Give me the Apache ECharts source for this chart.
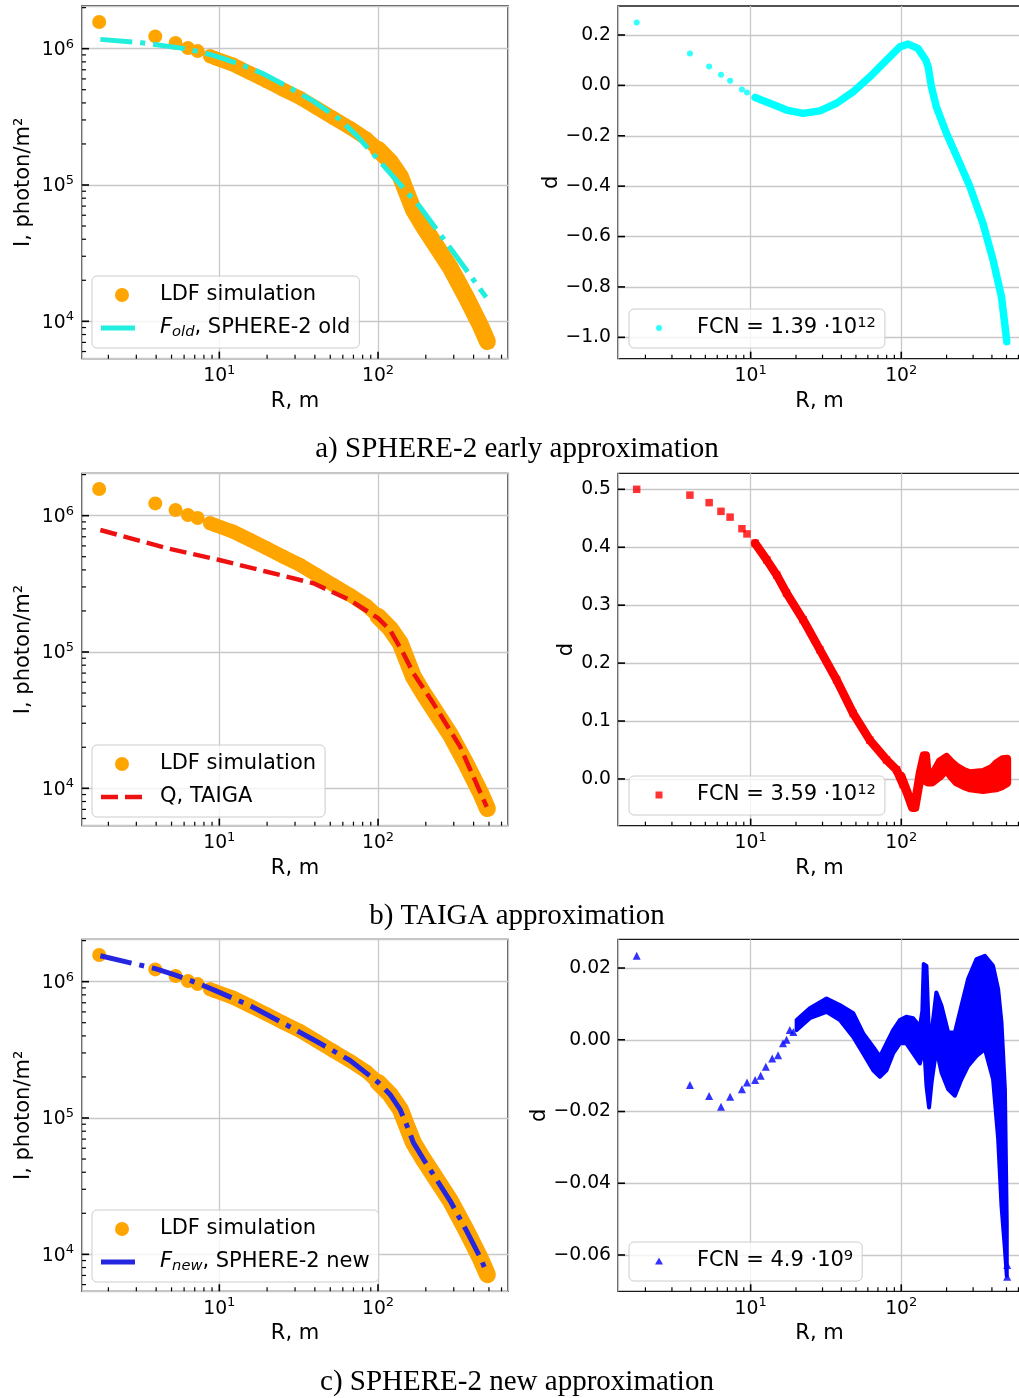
<!DOCTYPE html>
<html><head><meta charset="utf-8">
<script src="https://cdn.jsdelivr.net/npm/echarts@6/dist/echarts.min.js"></script>
<style>html,body{margin:0;padding:0;background:#fff}#c{width:1019px;height:1398px}</style>
</head><body><div id="c"></div>
<script>
// ---------------- DATA ----------------
// LDF simulation (shared by the three left panels): R [m], I [photon/m^2]
const ldfR = [1.75, 3.95, 5.3, 6.35, 7.3, 8.75, 9.45, 12.2, 15.6, 19.9, 25.3, 32.3, 41.1, 52.3, 66.7, 84.9, 100, 119, 138, 152, 167, 193, 223, 284, 362, 440, 489];
const ldfI = [1.57e6, 1.23e6, 1.10e6, 1.01e6, 9.6e5, 8.8e5, 8.5e5, 7.64e5, 6.64e5, 5.77e5, 5.0e5, 4.35e5, 3.67e5, 3.1e5, 2.62e5, 2.18e5, 1.83e5, 1.49e5, 1.16e5, 8.7e4, 6.6e4, 4.98e4, 3.85e4, 2.5e4, 1.48e4, 9.4e3, 7.1e3];
// F_old, SPHERE-2 old
const oldR = [1.78, 3.16, 6.3, 8.96, 11.1, 15.6, 18.9, 29.2, 39.1, 57.5, 73.4, 101, 184, 313, 461, 480];
const oldI = [1.17e6, 1.11e6, 9.95e5, 9.0e5, 8.3e5, 7.2e5, 6.55e5, 5.0e5, 4.12e5, 3.02e5, 2.3e5, 1.52e5, 6.9e4, 2.98e4, 1.6e4, 1.5e4];
// Q, TAIGA
const taigaR = [1.78, 4.67, 10, 19.9, 39.2, 66.7, 100, 119, 144.5, 167, 223, 329, 484];
const taigaI = [7.85e5, 5.77e5, 4.73e5, 3.88e5, 3.19e5, 2.4e5, 1.77e5, 1.45e5, 9.76e4, 6.98e4, 4.2e4, 2.02e4, 7.3e3];
// F_new, SPHERE-2 new
const newR = [1.78, 3.95, 5.3, 7.3, 9.45, 15.6, 25.3, 41.1, 66.7, 100, 119, 138, 152, 167, 193, 223, 284, 362, 440, 485];
const newI = [1.55e6, 1.245e6, 1.115e6, 9.75e5, 8.6e5, 6.67e5, 4.96e5, 3.64e5, 2.64e5, 1.83e5, 1.49e5, 1.15e5, 8.8e4, 6.6e4, 5.0e4, 3.85e4, 2.48e4, 1.48e4, 9.5e3, 7.3e3];

// residual d for F_old (cyan)
const dOldR = [1.75, 3.95, 5.3, 6.35, 7.3, 8.75, 9.45, 10.7, 13.4, 17.3, 22.3, 28.8, 37.2, 48, 61.9, 79.8, 97.9, 111, 129, 145.6, 150.8, 158.7, 171, 199.5, 245, 285, 349, 407, 463, 495, 502];
const dOld  = [0.25, 0.127, 0.075, 0.042, 0.018, -0.016, -0.028, -0.048, -0.071, -0.098, -0.111, -0.101, -0.071, -0.025, 0.034, 0.100, 0.153, 0.164, 0.147, 0.100, 0.074, -0.006, -0.085, -0.19, -0.31, -0.40, -0.548, -0.693, -0.839, -0.984, -1.017];
// residual d for TAIGA (red)
const dTaigaR = [1.75, 3.95, 5.3, 6.35, 7.3, 8.75, 9.45, 10.7, 12.8, 14.9, 17.3, 22.3, 28.8, 37.2, 48, 61.9, 79.8, 93, 103];
const dTaiga  = [0.500, 0.490, 0.477, 0.462, 0.452, 0.432, 0.423, 0.407, 0.378, 0.352, 0.321, 0.275, 0.223, 0.171, 0.113, 0.067, 0.033, 0.016, -0.010];
const dTaigaBandR  = [100, 110, 118, 124, 133, 141, 146, 150, 160, 180, 199.5, 215, 233, 260, 285, 349, 400, 429, 470, 505];
const dTaigaBandHi = [0.006, -0.022, -0.046, -0.036, 0.012, 0.041, 0.041, 0.006, 0.006, 0.030, 0.038, 0.029, 0.021, 0.014, 0.010, 0.012, 0.019, 0.027, 0.034, 0.035];
const dTaigaBandLo = [0.000, -0.028, -0.050, -0.050, -0.004, 0.014, -0.004, -0.006, -0.006, 0.004, 0.016, 0.004, -0.006, -0.012, -0.016, -0.019, -0.017, -0.016, -0.012, -0.007];
// residual d for F_new (blue)
const dNewR = [1.75, 3.95, 5.3, 6.35, 7.3, 8.75, 9.45, 10.7, 11.65, 12.6, 13.9, 15.2, 16.4, 17.3, 18.2, 19.2, 505, 505];
const dNew  = [0.0234, -0.0126, -0.0157, -0.0187, -0.0159, -0.0138, -0.0119, -0.0112, -0.010, -0.0075, -0.0052, -0.0043, -0.001, 0.0, 0.0027, 0.0022, -0.0628, -0.0661];
const dNewBandR  = [20.2, 24.7, 31.9, 39.1, 48, 55.9, 65.1, 72.1, 79.8, 88.3, 97.9, 108, 120, 133, 138, 141, 147, 153, 159, 171, 185, 205, 227, 251, 278, 316, 359, 407, 440, 463, 488, 502];
const dNewBandHi = [0.0055, 0.0088, 0.0115, 0.0097, 0.0074, 0.0018, -0.002, -0.0047, -0.001, 0.0027, 0.0055, 0.0064, 0.006, 0.0036, 0.008, 0.0211, 0.0206, 0.0, 0.002, 0.0132, 0.0095, 0.002, 0.002, 0.0095, 0.017, 0.0225, 0.0234, 0.0206, 0.0141, 0.0049, -0.0138, -0.051];
const dNewBandLo = [0.0027, 0.006, 0.0078, 0.0055, 0.0008, -0.0038, -0.0085, -0.0103, -0.0085, -0.0038, -0.001, -0.001, -0.0038, -0.0066, -0.004, 0.0002, -0.0128, -0.0189, -0.0119, -0.0026, -0.0091, -0.0138, -0.0156, -0.011, -0.0073, -0.0045, -0.0026, -0.011, -0.0277, -0.0463, -0.0584, -0.0658];

// ticks
const xMajor = [10, 100];
const xMinor = [2, 3, 4, 5, 6, 7, 8, 9, 20, 30, 40, 50, 60, 70, 80, 90, 200, 300, 400, 500, 600];
const yLogMajor = [1e4, 1e5, 1e6];
const yLogMinor = [6000, 7000, 8000, 9000, 2e4, 3e4, 4e4, 5e4, 6e4, 7e4, 8e4, 9e4, 2e5, 3e5, 4e5, 5e5, 6e5, 7e5, 8e5, 9e5, 2e6];
const dTicksA = [-1.0, -0.8, -0.6, -0.4, -0.2, 0.0, 0.2];
const dTicksB = [0.0, 0.1, 0.2, 0.3, 0.4, 0.5];
const dTicksC = [-0.06, -0.04, -0.02, 0.0, 0.02];
const captions = ['a) SPHERE-2 early approximation', 'b) TAIGA approximation', 'c) SPHERE-2 new approximation'];
const fcnText = [['1.39', '12'], ['3.59', '12'], ['4.9', '9']];

// ---------------- STYLE ----------------
const FONT = 'DejaVu Sans';
const TICK_FS = 18.75, SUP_FS = 13, NAME_FS = 21, LEG_FS = 21;
const GRIDC = '#c8c8c8';
const ORANGE = '#ffa500', CYAN = '#00ffff', CYANL = '#22eedd', RED = '#ff0000', REDL = '#ee1111', BLUE = '#0000ff', BLUEL = '#2626e0';

function pairs(xs, ys, a, b) { const o = []; for (let i = (a || 0); i < (b == null ? xs.length : b); i++) o.push([xs[i], ys[i]]); return o; }
function powLabel(v) { const e = Math.round(Math.log10(v)); return '{b|10}{s|' + e + '}'; }
const powRich = {
  b: { fontSize: TICK_FS, fontFamily: FONT, color: '#000', lineHeight: 22, verticalAlign: 'bottom' },
  s: { fontSize: SUP_FS, fontFamily: FONT, color: '#000', lineHeight: 13, verticalAlign: 'top' }
};
function decLabel(dec) { return function (v) { const s = Math.abs(v).toFixed(dec); return (v < -1e-12 ? '\u2212' : '') + s; }; }

const grids = [
  { left: 82, top: 6, width: 426, height: 352.67 },
  { left: 618, top: 6, right: -2, height: 352.67 },
  { left: 82, top: 473.33, width: 426, height: 352.33 },
  { left: 618, top: 473.33, right: -2, height: 352.33 },
  { left: 82, top: 939.33, width: 426, height: 352 },
  { left: 618, top: 939.33, right: -2, height: 352 }
].map(g => Object.assign({ show: true, borderColor: '#1a1a1a', borderWidth: 1.4, backgroundColor: 'transparent', containLabel: false, outerBoundsMode: 'none' }, g));

const xAxes = [], yAxes = [];
const nameStyle = { fontSize: NAME_FS, fontFamily: FONT, color: '#000' };
function addX(gi, min, max) {
  xAxes.push({ type: 'log', logBase: 10, gridIndex: gi, min: min, max: max, position: 'bottom',
    axisLine: { show: false, onZero: false },
    axisTick: { show: false },
    axisLabel: { show: true, customValues: xMajor, formatter: powLabel, rich: powRich, margin: 5 },
    splitLine: { show: true, lineStyle: { color: GRIDC, width: 1.3 } },
    minorTick: { show: false }, minorSplitLine: { show: false },
    name: 'R, m', nameLocation: 'middle', nameGap: 32, nameTextStyle: nameStyle });
  return xAxes.length - 1;
}
function addYLog(gi, min, max) {
  yAxes.push({ type: 'log', logBase: 10, gridIndex: gi, min: min, max: max, position: 'left',
    axisLine: { show: false, onZero: false },
    axisTick: { show: false },
    axisLabel: { show: true, customValues: yLogMajor, formatter: powLabel, rich: powRich, margin: 8 },
    splitLine: { show: true, lineStyle: { color: GRIDC, width: 1.3 } },
    name: 'I, photon/m\u00b2', nameLocation: 'middle', nameRotate: 90, nameGap: 48, nameTextStyle: nameStyle });
  return yAxes.length - 1;
}
function addYLin(gi, min, max, ticks, dec, gap) {
  yAxes.push({ type: 'value', gridIndex: gi, min: min, max: max, position: 'left',
    axisLine: { show: false, onZero: false },
    axisTick: { show: false, customValues: ticks },
    axisLabel: { show: true, customValues: ticks, formatter: decLabel(dec), fontSize: TICK_FS, fontFamily: FONT, color: '#000', margin: 7 },
    splitLine: { show: true, lineStyle: { color: GRIDC, width: 1.3 } },
    name: 'd', nameLocation: 'middle', nameRotate: 90, nameGap: gap, nameTextStyle: nameStyle });
  return yAxes.length - 1;
}

const XL = [1.364, 659], XR = [1.315, 624];
const panels = [
  { x: addX(0, XL[0], XL[1]), y: addYLog(0, 5320, 2.056e6), xmin: XL[0], xmax: XL[1], ymin: 5320, ymax: 2.056e6, yMaj: yLogMajor, yMin: yLogMinor },
  { x: addX(1, XR[0], XR[1]), y: addYLin(1, -1.0847, 0.3151, dTicksA, 1, 56), xmin: XR[0], xmax: XR[1], ymin: -1.0847, ymax: 0.3151, yMaj: dTicksA, yMin: [] },
  { x: addX(2, XL[0], XL[1]), y: addYLog(2, 5320, 2.044e6), xmin: XL[0], xmax: XL[1], ymin: 5320, ymax: 2.044e6, yMaj: yLogMajor, yMin: yLogMinor },
  { x: addX(3, XR[0], XR[1]), y: addYLin(3, -0.0806, 0.5276, dTicksB, 1, 41), xmin: XR[0], xmax: XR[1], ymin: -0.0806, ymax: 0.5276, yMaj: dTicksB, yMin: [] },
  { x: addX(4, XL[0], XL[1]), y: addYLog(4, 5353, 2.044e6), xmin: XL[0], xmax: XL[1], ymin: 5353, ymax: 2.044e6, yMaj: yLogMajor, yMin: yLogMinor },
  { x: addX(5, XR[0], XR[1]), y: addYLin(5, -0.07013, 0.028, dTicksC, 2, 68), xmin: XR[0], xmax: XR[1], ymin: -0.07013, ymax: 0.028, yMaj: dTicksC, yMin: [] }
];

const series = [];
// inward tick marks (major + minor) drawn through the axes' own scales
function tickSeries(p) {
  series.push({ type: 'custom', name: '_ticks', xAxisIndex: p.x, yAxisIndex: p.y, clip: false, silent: true, z: 6, animation: false,
    data: [[p.xmin, p.ymin]],
    renderItem: function (params, api) {
      const ch = [];
      function seg(pt, dx, dy, w) { ch.push({ type: 'line', shape: { x1: pt[0], y1: pt[1], x2: pt[0] + dx, y2: pt[1] + dy }, style: { stroke: '#000', lineWidth: w } }); }
      xMajor.forEach(v => { if (v >= p.xmin && v <= p.xmax) seg(api.coord([v, p.ymin]), 0, -7, 1.6); });
      xMinor.forEach(v => { if (v >= p.xmin && v <= p.xmax) seg(api.coord([v, p.ymin]), 0, -4, 1.2); });
      p.yMaj.forEach(v => { if (v >= p.ymin && v <= p.ymax) seg(api.coord([p.xmin, v]), 7, 0, 1.6); });
      p.yMin.forEach(v => { if (v >= p.ymin && v <= p.ymax) seg(api.coord([p.xmin, v]), 4, 0, 1.2); });
      return { type: 'group', children: ch };
    } });
}
function ldfSeries(p) {
  series.push({ type: 'line', name: '_ldfband', xAxisIndex: p.x, yAxisIndex: p.y, data: pairs(ldfR, ldfI, 5, 17),
    symbol: 'none', lineStyle: { color: ORANGE, width: 14, cap: 'round', join: 'round' }, z: 2, silent: true, animation: false });
  series.push({ type: 'line', name: '_ldftail', xAxisIndex: p.x, yAxisIndex: p.y, data: pairs(ldfR, ldfI, 16),
    symbol: 'none', lineStyle: { color: ORANGE, width: 17, cap: 'round', join: 'round' }, z: 2, silent: true, animation: false });
  series.push({ type: 'scatter', name: 'LDF simulation', xAxisIndex: p.x, yAxisIndex: p.y, data: pairs(ldfR, ldfI),
    symbol: 'circle', symbolSize: 14, itemStyle: { color: ORANGE, opacity: 1 }, z: 2, silent: true, animation: false });
}
function fitSeries(p, name, xs, ys, color, dash, w) {
  series.push({ type: 'line', name: name, xAxisIndex: p.x, yAxisIndex: p.y, data: pairs(xs, ys),
    symbol: 'none', lineStyle: { color: color, width: w, type: dash }, itemStyle: { color: color }, z: 4, silent: true, animation: false });
}
function bandSeries(p, R, lo, hi, color, lw) {
  series.push({ type: 'custom', name: '_band', xAxisIndex: p.x, yAxisIndex: p.y, clip: true, silent: true, z: 2, animation: false,
    data: [[R[0], lo[0]]],
    renderItem: function (params, api) {
      const pts = [];
      for (let k = 0; k < R.length; k++) pts.push(api.coord([R[k], hi[k]]));
      for (let k = R.length - 1; k >= 0; k--) pts.push(api.coord([R[k], lo[k]]));
      return { type: 'polygon', shape: { points: pts }, style: { fill: color, stroke: color, lineWidth: lw, lineJoin: 'round' } };
    } });
}
// a-left
ldfSeries(panels[0]);
fitSeries(panels[0], 'F_old', oldR, oldI, CYANL, [32, 8, 5, 8], 5);
// b-left
ldfSeries(panels[2]);
fitSeries(panels[2], 'Q_TAIGA', taigaR, taigaI, REDL, [17, 7], 4.5);
// c-left
ldfSeries(panels[4]);
fitSeries(panels[4], 'F_new', newR, newI, BLUEL, [32, 8, 5, 8], 5);
// a-right
series.push({ type: 'line', name: '_dOld', xAxisIndex: panels[1].x, yAxisIndex: panels[1].y, data: pairs(dOldR, dOld, 7),
  symbol: 'none', lineStyle: { color: CYAN, width: 7.5, cap: 'round', join: 'round' }, z: 2, silent: true, animation: false });
series.push({ type: 'scatter', name: 'FCN_a', xAxisIndex: panels[1].x, yAxisIndex: panels[1].y, data: pairs(dOldR, dOld),
  symbol: 'circle', symbolSize: 6, itemStyle: { color: CYAN }, z: 3, silent: true, animation: false });
// b-right
series.push({ type: 'line', name: '_dTaiga', xAxisIndex: panels[3].x, yAxisIndex: panels[3].y, data: pairs(dTaigaR, dTaiga, 7),
  symbol: 'none', lineStyle: { color: RED, width: 8.5, cap: 'round', join: 'round' }, z: 2, silent: true, animation: false });
bandSeries(panels[3], dTaigaBandR, dTaigaBandLo, dTaigaBandHi, RED, 8);
series.push({ type: 'scatter', name: 'FCN_b', xAxisIndex: panels[3].x, yAxisIndex: panels[3].y, data: pairs(dTaigaR, dTaiga),
  symbol: 'rect', symbolSize: 7.5, itemStyle: { color: RED }, z: 3, silent: true, animation: false });
// c-right
bandSeries(panels[5], dNewBandR, dNewBandLo, dNewBandHi, BLUE, 4);
series.push({ type: 'scatter', name: 'FCN_c', xAxisIndex: panels[5].x, yAxisIndex: panels[5].y, data: pairs(dNewR, dNew),
  symbol: 'triangle', symbolSize: 8, itemStyle: { color: BLUE }, z: 3, silent: true, animation: false });
panels.forEach(tickSeries);

const legRich = {
  n: { fontSize: LEG_FS, fontFamily: FONT, color: '#000', lineHeight: 24 },
  it: { fontSize: LEG_FS, fontFamily: FONT, fontStyle: 'italic', color: '#000', lineHeight: 24 },
  sub: { fontSize: 14.7, fontFamily: FONT, fontStyle: 'italic', color: '#000', lineHeight: 14, verticalAlign: 'bottom' },
  sup: { fontSize: 14.7, fontFamily: FONT, color: '#000', lineHeight: 14, verticalAlign: 'top' }
};
const legNames = {
  'F_old': '{it|F}{sub|old}{n|, SPHERE-2 old}',
  'Q_TAIGA': '{n|Q, TAIGA}',
  'F_new': '{it|F}{sub|new}{n|, SPHERE-2 new}',
  'LDF simulation': '{n|LDF simulation}',
  'FCN_a': '{n|FCN = ' + fcnText[0][0] + ' \u00b710}{sup|' + fcnText[0][1] + '}',
  'FCN_b': '{n|FCN = ' + fcnText[1][0] + ' \u00b710}{sup|' + fcnText[1][1] + '}',
  'FCN_c': '{n|FCN = ' + fcnText[2][0] + ' \u00b710}{sup|' + fcnText[2][1] + '}'
};
// legend handle shapes (bounding box fixed to itemWidth x itemHeight by two tiny corner specks)
const BOX14 = 'M0,0L0.01,0L0,0.01Z M42,14L41.99,14L42,13.99Z ';
const BOX7 = 'M0,0L0.01,0L0,0.01Z M42,7L41.99,7L42,6.99Z ';
const ICON_DASHDOT = 'path://' + BOX14 + 'M0,4.5h34v5h-34Z';
const ICON_DASHED = 'path://' + BOX14 + 'M0,4.75h17v4.5h-17Z M24,4.75h17v4.5h-17Z';
const ICON_DOT = 'path://' + BOX7 + 'M18,3.5a3,3 0 1,0 6,0a3,3 0 1,0 -6,0Z';
const ICON_SQ = 'path://' + BOX7 + 'M17.5,0h7v7h-7Z';
const ICON_TRI = 'path://' + BOX7 + 'M17,7L21,0L25,7Z';
function legend(left, top, items, ih, pad) {
  return { show: true, orient: 'vertical', left: left, top: top, data: items, itemWidth: 42, itemHeight: ih, itemGap: 9,
    padding: pad, backgroundColor: 'rgba(255,255,255,0.8)', borderColor: '#cccccc', borderWidth: 1, borderRadius: 5,
    selectedMode: false, formatter: function (n) { return legNames[n] || n; },
    textStyle: { fontSize: LEG_FS, fontFamily: FONT, color: '#000', lineHeight: 24, padding: [0, 0, 0, 12], rich: legRich } };
}
const LDF_ITEM = { name: 'LDF simulation', icon: 'circle' };
const legends = [
  legend(92, 276, [LDF_ITEM, { name: 'F_old', icon: ICON_DASHDOT }], 14, [7, 9, 8, 9]),
  legend(92, 745, [LDF_ITEM, { name: 'Q_TAIGA', icon: ICON_DASHED }], 14, [7, 9, 8, 9]),
  legend(92, 1210, [LDF_ITEM, { name: 'F_new', icon: ICON_DASHDOT }], 14, [7, 9, 8, 9]),
  legend(629, 309, [{ name: 'FCN_a', icon: ICON_DOT }], 7, [7, 9, 8, 9]),
  legend(629, 776, [{ name: 'FCN_b', icon: ICON_SQ }], 7, [7, 9, 8, 9]),
  legend(629, 1242, [{ name: 'FCN_c', icon: ICON_TRI }], 7, [7, 9, 8, 9])
];

const capY = [449, 916, 1382];
const graphic = captions.map((t, i) => ({ type: 'text', x: 517, y: capY[i], silent: true,
  style: { text: t, fontSize: 29, fontFamily: 'Liberation Serif', fill: '#000', align: 'center', verticalAlign: 'middle' } }));

const chart = echarts.init(document.getElementById('c'), null, { renderer: 'canvas' });
chart.setOption({
  animation: false, backgroundColor: '#fff',
  textStyle: { fontFamily: FONT },
  grid: grids, xAxis: xAxes, yAxis: yAxes, series: series, legend: legends, graphic: graphic
});
</script></body></html>
